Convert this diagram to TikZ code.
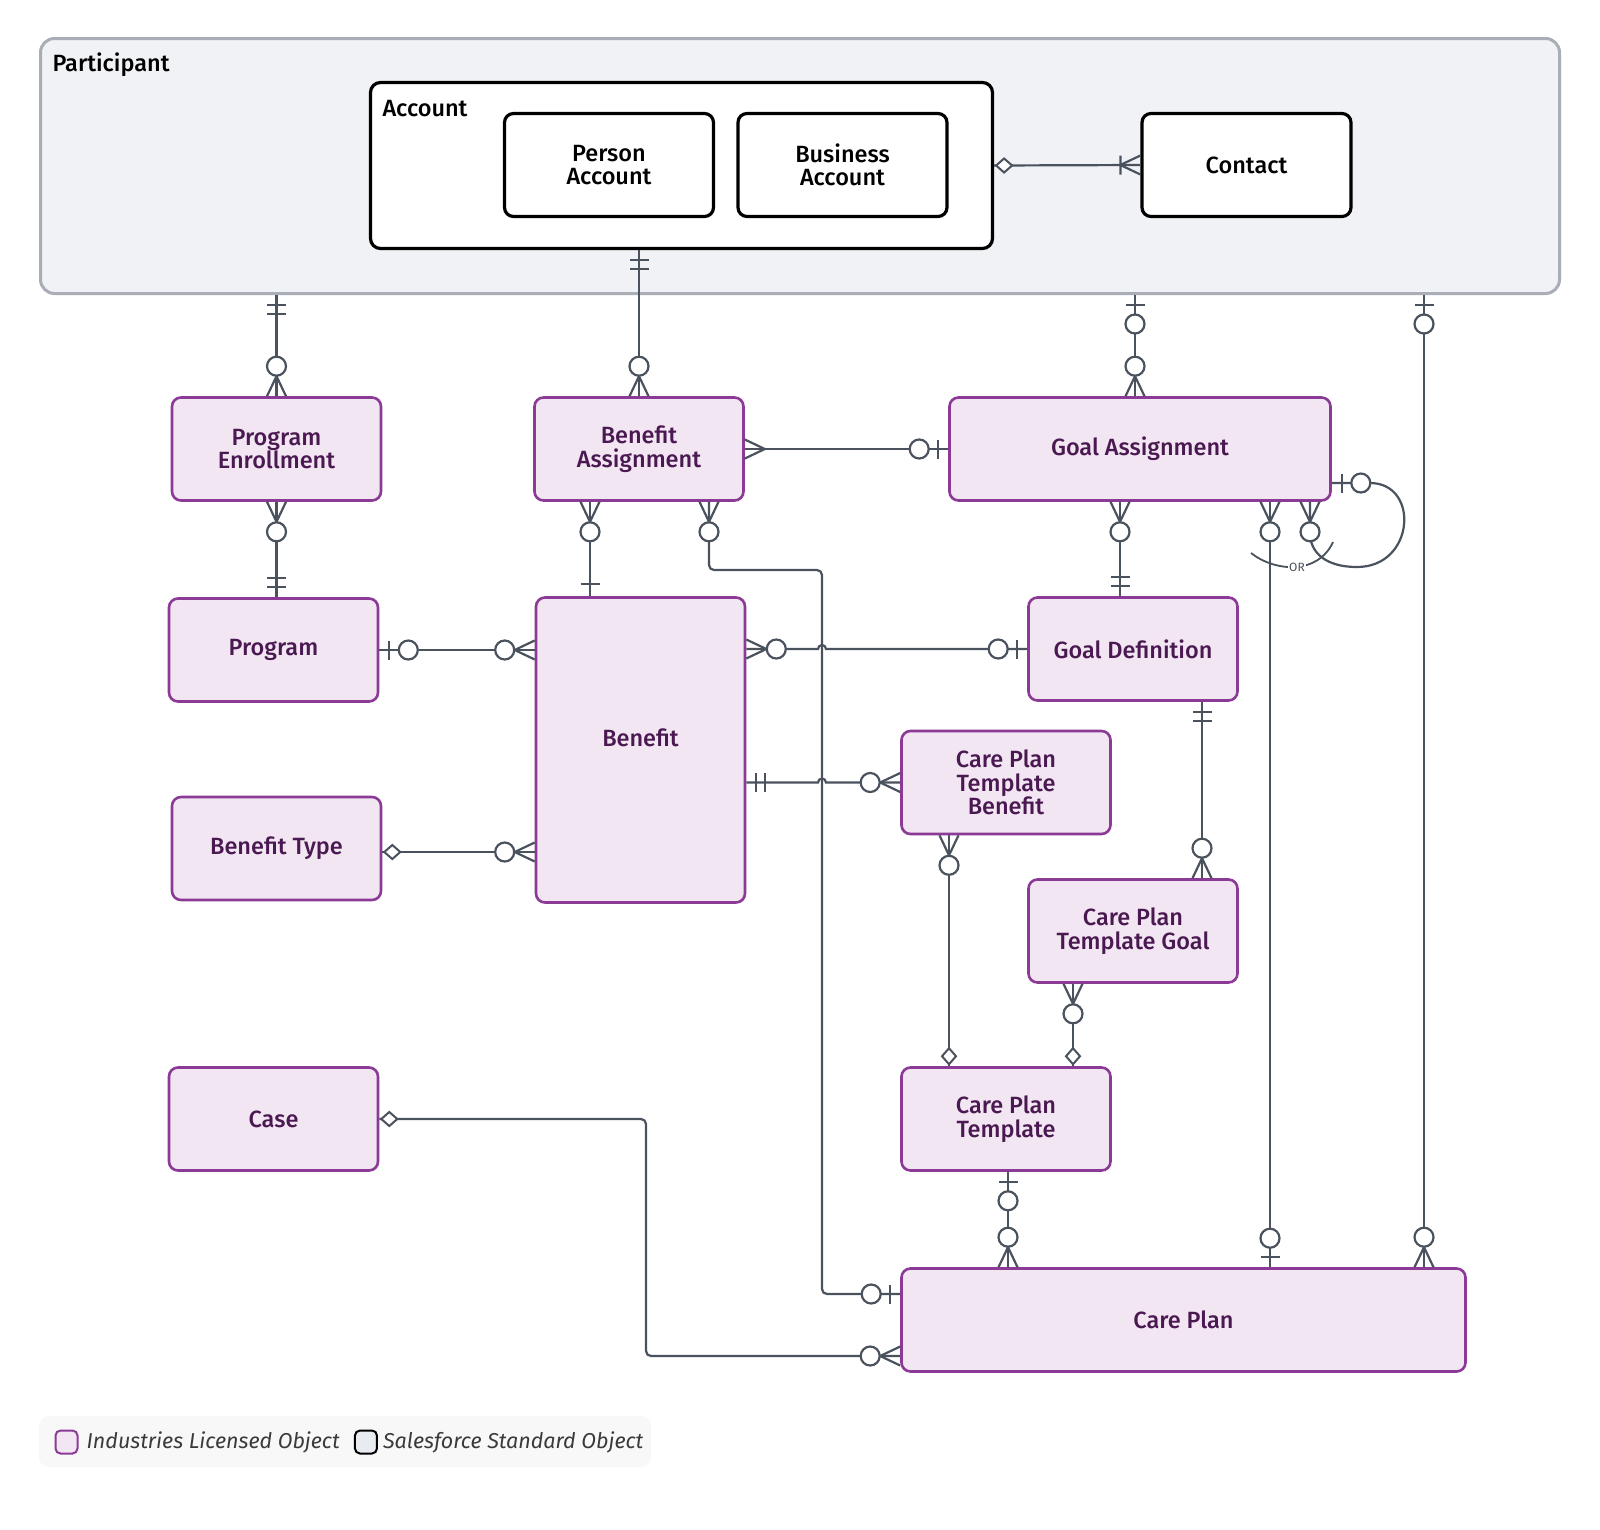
\documentclass[tikz,border=0pt]{standalone}
\usepackage{fontspec}
\setmainfont{Fira Sans}[BoldFont={Fira Sans Medium}]
\usetikzlibrary{calc,positioning}

\definecolor{lnk}{HTML}{4A525E}
\definecolor{ilo}{HTML}{8B3A96}
\definecolor{ilofill}{HTML}{F2E6F3}
\definecolor{ilotxt}{HTML}{4B1952}
\definecolor{partfill}{HTML}{F1F2F6}
\definecolor{partline}{HTML}{A9ADB5}
\definecolor{ssofill}{HTML}{E8ECF1}
\definecolor{legfill}{HTML}{F8F8F8}
\definecolor{legtxt}{HTML}{3A3A3A}

\tikzset{
  lbl/.style={font=\fontsize{23.5}{23.5}\selectfont\bfseries},
  obj/.style={lbl,draw=ilo,fill=ilofill,line width=2.6pt,rounded corners=9pt,
    text=ilotxt,align=center,minimum width=209pt,minimum height=103pt},
  std/.style={lbl,draw=black,fill=white,line width=3.2pt,rounded corners=9pt,
    align=center,minimum width=209pt,minimum height=103pt},
  conn/.style={draw=lnk,line width=2.2pt},
  swatch/.style={line width=2pt,rounded corners=5pt,minimum width=22pt,minimum height=23pt},
  legtext/.style={font=\fontsize{21.5}{24}\selectfont\itshape,text=legtxt,inner sep=0pt},
  % ends: box edge at origin, +x points away from the box
  many/.pic={\draw[conn] (0,9.5) -- (20,0) -- (0,-9.5);},
  zmany/.pic={\draw[conn] (0,9.5) -- (20,0) -- (0,-9.5);
    \draw[conn,fill=white] (30,0) circle (9.5);},
  zone/.pic={\draw[conn] (10,-9.5) -- (10,9.5);
    \draw[conn,fill=white] (29,0) circle (9.5);},
  one/.pic={\draw[conn] (12,-9.5) -- (12,9.5);},
  oneone/.pic={\draw[conn] (10,-9.5) -- (10,9.5) (19,-9.5) -- (19,9.5);},
  omany/.pic={\draw[conn] (0,9.5) -- (20,0) -- (0,-9.5) (20,-9.5) -- (20,9.5);},
  dia/.pic={\draw[conn,line width=2pt,fill=white] (2,0) -- (10,7) -- (18,0) -- (10,-7) -- cycle;}
}

\begin{document}
\begin{tikzpicture}[x=1pt,y=-1pt]
\fill[white] (0,0) rectangle (1600,1529);
\useasboundingbox (0,0) rectangle (1600,1529);

% containers
\node[draw=partline,fill=partfill,line width=3pt,rounded corners=14pt,
  minimum width=1519pt,minimum height=255pt] (part) at (800,166) {};
\node[lbl,anchor=west] (partlbl) at (49,65) {Participant};
\node[draw=black,fill=white,line width=3.2pt,rounded corners=10pt,
  minimum width=622pt,minimum height=166pt] (acc) at (681.5,165.5) {};
\node[lbl,anchor=west] (acclbl) at (379,109) {Account};
\node[std] (pa) at (609,165) {Person\\Account};
\node[std] (bacc) at (842.5,165) {Business\\Account};
\node[std] (con) at (1246.5,165) {Contact};

% objects
\node[obj] (pe) at (276.5,449) {Program\\Enrollment};
\node[obj] (ba) at (639,449) {Benefit\\Assignment};
\node[obj,minimum width=381pt] (ga) at (1140,449) {Goal Assignment};
\node[obj] (prg) at (273.5,650) {Program};
\node[obj,minimum height=305pt,text depth=24pt] (ben) at (640.5,750) {Benefit};
\node[obj] (gd) at (1133,649) {Goal Definition};
\node[obj] (cptb) at (1006,782.5) {Care Plan\\Template\\Benefit};
\node[obj] (bt) at (276.5,848.5) {Benefit Type};
\node[obj] (cptg) at (1133,931) {Care Plan\\Template Goal};
\node[obj] (case) at (273.5,1119) {Case};
\node[obj] (cpt) at (1006,1119) {Care Plan\\Template};
\node[obj,minimum width=564pt] (cp) at (1183.5,1320) {Care Plan};

% connectors
\draw[conn] (acc.east) -- (con.west);
\draw[conn] (part.south -| pe.north) -- (pe.north);
\draw[conn] (acc.south -| ba.north) -- (ba.north);
\draw[conn] (part.south -| 1135,0) -- (ga.north -| 1135,0);
\draw[conn] (part.south -| 1424,0) -- (cp.north -| 1424,0);
\draw[conn] (ba.east) -- (ga.west);
\draw[conn] (pe.south) -- (pe.south |- prg.north);
\draw[conn] (ba.south -| 590,0) -- (ben.north -| 590,0);
\draw[conn,rounded corners=5pt] (ba.south -| 709,0) -- (709,570) -- (822,570)
  -- (822,1294) -- (cp.west |- 0,1294);
\draw[conn] (prg.east) -- (prg.east -| ben.west);
\draw[conn] (ben.east |- gd.west) -- (818,649) arc[start angle=180,end angle=360,radius=4] -- (gd.west);
\draw[conn] (ben.east |- cptb.west) -- (818,782.5) arc[start angle=180,end angle=360,radius=4] -- (cptb.west);
\coordinate (btlink) at (bt.east |- 0,852);
\draw[conn] (btlink) -- (btlink -| ben.west);
\draw[conn] (ga.south -| 1120,0) -- (gd.north -| 1120,0);
\draw[conn] (ga.east |- 0,483) -- (1370,483) .. controls (1420,483) and (1415,567) .. (1357,567)
  .. controls (1325,567) and (1310,552) .. (1310,533) -- (ga.south -| 1310,0);
\draw[conn] (ga.south -| 1270,0) -- (cp.north -| 1270,0);
\draw[conn] (gd.south -| 1202,0) -- (cptg.north -| 1202,0);
\draw[conn] (cptb.south -| 949,0) -- (cpt.north -| 949,0);
\draw[conn] (cptg.south -| 1073,0) -- (cpt.north -| 1073,0);
\draw[conn] (cpt.south -| 1008,0) -- (cp.north -| 1008,0);
\coordinate (caseturn) at (646,1356);
\draw[conn,rounded corners=5pt] (case.east) -| (caseturn) -- (caseturn -| cp.west);

% OR bracket
\draw[conn,line width=1.8pt] (1251,553) .. controls (1275,572) and (1318,575) .. (1333,542);
\node[fill=white,inner sep=1pt,text=lnk,font=\fontsize{12}{12}\selectfont] (orlbl) at (1297,567) {OR};

% ends
\pic at (acc.east) {dia};
\pic[rotate=180] at (con.west) {omany};
\pic[rotate=-90] at (part.south -| pe.north) {oneone};
\pic[rotate=90] at (pe.north) {zmany};
\pic[rotate=-90] at (acc.south -| ba.north) {oneone};
\pic[rotate=90] at (ba.north) {zmany};
\pic[rotate=-90] at (part.south -| 1135,0) {zone};
\pic[rotate=90] at (ga.north -| 1135,0) {zmany};
\pic[rotate=-90] at (part.south -| 1424,0) {zone};
\pic[rotate=90] at (cp.north -| 1424,0) {zmany};
\pic at (ba.east) {many};
\pic[rotate=180] at (ga.west) {zone};
\pic[rotate=-90] at (pe.south) {zmany};
\pic[rotate=90] at (pe.south |- prg.north) {oneone};
\pic[rotate=-90] at (ba.south -| 590,0) {zmany};
\pic[rotate=90] at (ben.north -| 590,0) {one};
\pic[rotate=-90] at (ba.south -| 709,0) {zmany};
\pic[rotate=180] at (cp.west |- 0,1294) {zone};
\pic at (prg.east) {zone};
\pic[rotate=180] at (prg.east -| ben.west) {zmany};
\pic at (ben.east |- gd.west) {zmany};
\pic[rotate=180] at (gd.west) {zone};
\pic at (ben.east |- cptb.west) {oneone};
\pic[rotate=180] at (cptb.west) {zmany};
\pic at (btlink) {dia};
\pic[rotate=180] at (btlink -| ben.west) {zmany};
\pic[rotate=-90] at (ga.south -| 1120,0) {zmany};
\pic[rotate=90] at (gd.north -| 1120,0) {oneone};
\pic at (ga.east |- 0,483) {zone};
\pic[rotate=-90] at (ga.south -| 1310,0) {zmany};
\pic[rotate=-90] at (ga.south -| 1270,0) {zmany};
\pic[rotate=90] at (cp.north -| 1270,0) {zone};
\pic[rotate=-90] at (gd.south -| 1202,0) {oneone};
\pic[rotate=90] at (cptg.north -| 1202,0) {zmany};
\pic[rotate=-90] at (cptb.south -| 949,0) {zmany};
\pic[rotate=90] at (cpt.north -| 949,0) {dia};
\pic[rotate=-90] at (cptg.south -| 1073,0) {zmany};
\pic[rotate=90] at (cpt.north -| 1073,0) {dia};
\pic[rotate=-90] at (cpt.south -| 1008,0) {zone};
\pic[rotate=90] at (cp.north -| 1008,0) {zmany};
\pic at (case.east) {dia};
\pic[rotate=180] at (caseturn -| cp.west) {zmany};

% legend
\node[fill=legfill,rounded corners=10pt,minimum width=612pt,minimum height=51pt] (leg) at (345,1441.5) {};
\node[swatch,draw=ilo,fill=ilofill] (swilo) at (66.5,1442) {};
\node[legtext,right=8pt of swilo] (txilo) {Industries Licensed Object};
\node[swatch,draw=black,fill=ssofill,right=14pt of txilo] (swsso) {};
\node[legtext,right=5pt of swsso] (txsso) {Salesforce Standard Object};
\end{tikzpicture}
\end{document}
